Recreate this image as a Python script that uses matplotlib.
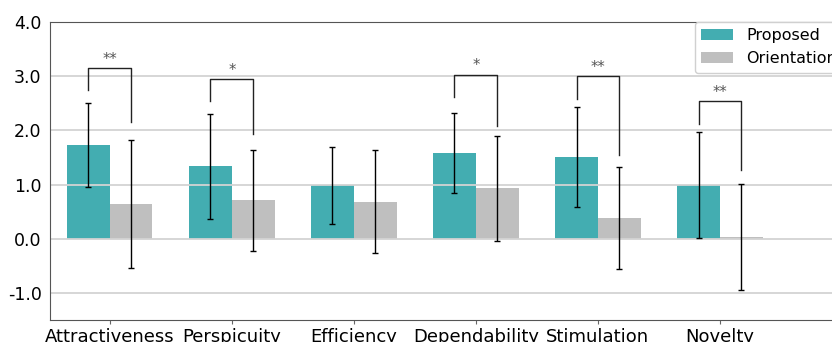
import matplotlib.pyplot as plt
import numpy as np

plt.rcParams['axes.unicode_minus'] = False

categories = ['Attractiveness', 'Perspicuity', 'Efficiency', 'Dependability', 'Stimulation', 'Novelty']
proposed = [1.73, 1.34, 0.99, 1.58, 1.51, 0.99]
proposed_err = [0.77, 0.97, 0.71, 0.74, 0.92, 0.98]
orientation = [0.64, 0.71, 0.68, 0.93, 0.39, 0.03]
orientation_err = [1.18, 0.93, 0.95, 0.97, 0.94, 0.98]

# significance brackets: category index, top, left leg end, right leg end, label
sig_idx = [0, 1, 3, 4, 5]
sig_top = [3.15, 2.94, 3.03, 3.01, 2.54]
sig_left = [2.74, 2.54, 2.61, 2.57, 2.12]
sig_right = [2.15, 1.94, 2.08, 1.55, 1.27]
sig_text = ['**', '*', '*', '**', '**']

fig = plt.figure(figsize=(8.32, 3.42), dpi=100)
ax = fig.add_axes([50 / 832, 22 / 342, 870 / 832, 298 / 342])
ax.set_ylim(-1.5, 4.0)
ax.set_xlim(-0.49, 6.64)

x = np.arange(len(categories))
w = 0.35
ekw = dict(ecolor='black', elinewidth=1.0, capsize=2.5, capthick=1.0)
ax.bar(x - w / 2, proposed, w, yerr=proposed_err, color='#43adb1', label='Proposed', error_kw=ekw)
ax.bar(x + w / 2, orientation, w, yerr=orientation_err, color='#bfbfbf', label='Orientation', error_kw=ekw)

for i, top, yl, yr, t in zip(sig_idx, sig_top, sig_left, sig_right, sig_text):
    xl, xr = i - w / 2, i + w / 2
    ax.plot([xl, xl, xr, xr], [yl, top, top, yr], color='#222222', lw=1.0)
    ax.text(i, top + 0.02, t, ha='center', va='bottom', fontsize=10.5, color='#555555')

ax.set_yticks([-1, 0, 1, 2, 3, 4])
ax.set_yticklabels(['-1.0', '0.0', '1.0', '2.0', '3.0', '4.0'], fontsize=12.5)
ax.set_xticks(x)
ax.set_xticklabels(categories, fontsize=13)
ax.yaxis.grid(True, color='#d3d3d3', lw=1.3)
ax.tick_params(axis='y', length=0, pad=6)
ax.tick_params(axis='x', length=3, color='#666666', pad=3)
for s in ax.spines.values():
    s.set_color('#555555')

fig.legend(loc='upper left', bbox_to_anchor=(695 / 832, 1 - 22 / 342), borderaxespad=0,
           fontsize=11.5, framealpha=1, edgecolor='#d0d0d0')

fig.savefig('out.png', dpi=100)
